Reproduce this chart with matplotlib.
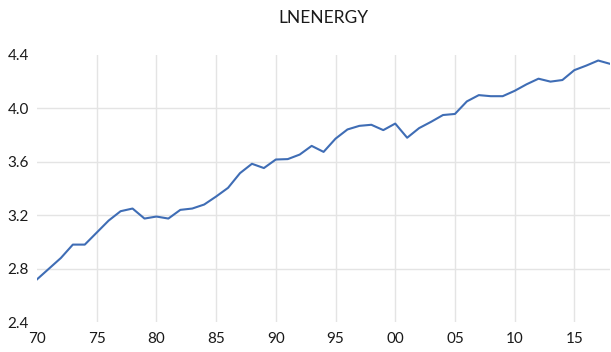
import matplotlib
matplotlib.use("Agg")
import matplotlib.pyplot as plt

# LNENERGY series, annual 1970-2018
years = list(range(1970, 2019))
lnenergy = [
    2.72, 2.80, 2.88, 2.98, 2.98, 3.07, 3.16, 3.23, 3.25, 3.175,
    3.19, 3.175, 3.24, 3.25, 3.28, 3.34, 3.405, 3.515, 3.585, 3.553,
    3.617, 3.62, 3.654, 3.719, 3.674, 3.773, 3.842, 3.869, 3.877, 3.837,
    3.886, 3.78, 3.852, 3.899, 3.95, 3.958, 4.052, 4.099, 4.091, 4.091,
    4.131, 4.18, 4.222, 4.20, 4.212, 4.286, 4.32, 4.358, 4.333,
]
x_ticks = [1970, 1975, 1980, 1985, 1990, 1995, 2000, 2005, 2010, 2015]
x_labels = ["70", "75", "80", "85", "90", "95", "00", "05", "10", "15"]
y_ticks = [2.4, 2.8, 3.2, 3.6, 4.0, 4.4]

plt.rcParams['font.family'] = ['Lato', 'DejaVu Sans']

fig = plt.figure(figsize=(6.11, 3.52), dpi=100)
ax = fig.add_axes([0.0606, 0.085, 0.938, 0.759])

ax.plot(years, lnenergy, color='#3F6DB5', linewidth=1.5)

ax.set_xlim(1970, 2018)
ax.set_ylim(2.4, 4.4)
ax.set_xticks(x_ticks)
ax.set_xticklabels(x_labels)
ax.set_yticks(y_ticks)
ax.set_yticklabels([f"{v:.1f}" for v in y_ticks])

# grid lines drawn by hand so the outer edges stay clear
for yv in y_ticks[1:-1]:
    ax.axhline(yv, color='#E4E4E4', linewidth=1.0, zorder=0)
for xv in x_ticks[1:]:
    ax.axvline(xv, color='#E4E4E4', linewidth=1.0, zorder=0)

for s in ax.spines.values():
    s.set_visible(False)
ax.tick_params(axis='both', length=0, labelsize=11, colors='#1a1a1a')
ax.tick_params(axis='x', pad=7)
ax.tick_params(axis='y', pad=6)

fig.text(0.530, 0.948, "LNENERGY", ha='center', va='center',
         fontsize=12.5, color='#1a1a1a')

fig.savefig("out.png", dpi=100)
